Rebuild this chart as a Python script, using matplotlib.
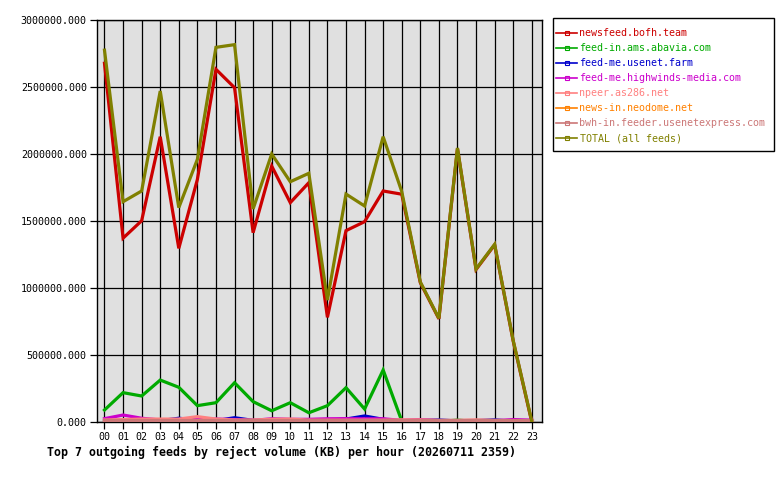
import matplotlib
matplotlib.use("Agg")
import matplotlib.pyplot as plt
from matplotlib.lines import Line2D
from matplotlib.patches import Rectangle

hours = ['00', '01', '02', '03', '04', '05', '06', '07', '08', '09', '10', '11',
         '12', '13', '14', '15', '16', '17', '18', '19', '20', '21', '22', '23']

names = ['newsfeed.bofh.team', 'feed-in.ams.abavia.com', 'feed-me.usenet.farm',
         'feed-me.highwinds-media.com', 'npeer.as286.net', 'news-in.neodome.net',
         'bwh-in.feeder.usenetexpress.com', 'TOTAL (all feeds)']
colors = ['#cc0000', '#00aa00', '#0000cc', '#cc00cc', '#ff8080', '#ff8000', '#cc7777', '#808000']

bofh = [2677000, 1372000, 1502000, 2129000, 1296000, 1810000, 2632000, 2495000,
        1413000, 1910000, 1637000, 1786000, 781000, 1428000, 1495000, 1724000,
        1700000, 1040000, 770000, 2040000, 1138000, 1322000, 604000, 0]
abavia = [89500, 219000, 194000, 313000, 259000, 122000, 144000, 293000,
          152000, 84000, 144000, 69000, 122000, 256000, 97000, 388000,
          8000, 4000, 4000, 14000, 4000, 3000, 2000, 0]
usenetfarm = [10000, 12000, 8000, 10000, 28000, 15000, 10000, 32000,
              12000, 8000, 6000, 10000, 15000, 22000, 45000, 20000,
              10000, 12000, 15000, 8000, 10000, 16000, 5000, 0]
highwinds = [25000, 52000, 28000, 15000, 12000, 18000, 22000, 18000,
             12000, 24000, 20000, 20000, 24000, 25000, 24000, 24000,
             12000, 18000, 10000, 8000, 8000, 10000, 18000, 14000]
npeer = [15000, 18000, 22000, 22000, 22000, 40000, 22000, 15000,
         15000, 20000, 22000, 14000, 14000, 14000, 14000, 14000,
         16000, 16000, 12000, 12000, 16000, 12000, 10000, 0]
neodome = [5000, 5000, 5000, 5000, 5000, 5000, 5000, 5000,
           5000, 5000, 5000, 5000, 5000, 5000, 5000, 5000,
           5000, 5000, 5000, 5000, 5000, 5000, 5000, 0]
usenetexpress = [15000, 15000, 15000, 15000, 15000, 15000, 15000, 15000,
                 15000, 15000, 15000, 15000, 15000, 15000, 15000, 15000,
                 15000, 15000, 15000, 15000, 15000, 15000, 15000, 15000]
total = [2775000, 1644000, 1724000, 2470000, 1600000, 1960000, 2796000, 2816000,
         1590000, 2000000, 1793000, 1856000, 910000, 1701000, 1612000, 2129000,
         1720000, 1045000, 774000, 2045000, 1142000, 1326000, 608000, 5000]

series = [bofh, abavia, usenetfarm, highwinds, npeer, neodome, usenetexpress, total]
yticks = [0, 500000, 1000000, 1500000, 2000000, 2500000, 3000000]

mono = 'DejaVu Sans Mono'
fig = plt.figure(figsize=(7.8, 4.8), dpi=100)
ax = fig.add_axes([96.5 / 780, 58 / 480, 445.5 / 780, 402 / 480])
ax.set_facecolor('#e0e0e0')

x = list(range(len(hours)))
for vals, c in zip(series, colors):
    ax.plot(x, vals, color=c, linewidth=2.3, solid_joinstyle='miter', zorder=3)

ax.set_xlim(-0.43, 23.55)
ax.set_ylim(0, 3000000)
ax.set_xticks(x)
ax.set_xticklabels(hours, fontfamily=mono, fontsize=7.2)
ax.set_yticks(yticks)
ax.set_yticklabels(['%d.000' % v for v in yticks], fontfamily=mono, fontsize=7.2)
ax.grid(True, color='black', linewidth=0.9, zorder=1)
ax.set_axisbelow(True)
ax.tick_params(direction='out', length=5, width=0.9, color='black', pad=2)
for s in ax.spines.values():
    s.set_color('black')
    s.set_linewidth(1.0)

# legend frame drawn separately so that the padding matches the reference
fig.patches.append(Rectangle((553 / 780, 1 - 151 / 480), 221 / 780, 133 / 480,
                             transform=fig.transFigure, facecolor='white',
                             edgecolor='black', linewidth=1.0, zorder=0))

handles = [Line2D([], [], color=c, linewidth=1.2, marker='s', markersize=2.5,
                  markerfacecolor='none', markeredgecolor=c, markeredgewidth=0.8)
           for c in colors]
leg = fig.legend(handles, names, loc='upper left',
                 bbox_to_anchor=(556 / 780, 1 - 28.3 / 480), borderaxespad=0,
                 prop={'family': mono, 'size': 7.2}, numpoints=1,
                 handlelength=2.1, handletextpad=0.25, labelspacing=0.5,
                 borderpad=0.0, frameon=False)
for t, c in zip(leg.get_texts(), colors):
    t.set_color(c)

fig.text(47 / 780, 1 - 452 / 480,
         'Top 7 outgoing feeds by reject volume (KB) per hour (20260711 2359)',
         ha='left', va='center', fontfamily=mono, fontsize=8.4, fontweight='bold')

fig.savefig('out.png', dpi=100)
